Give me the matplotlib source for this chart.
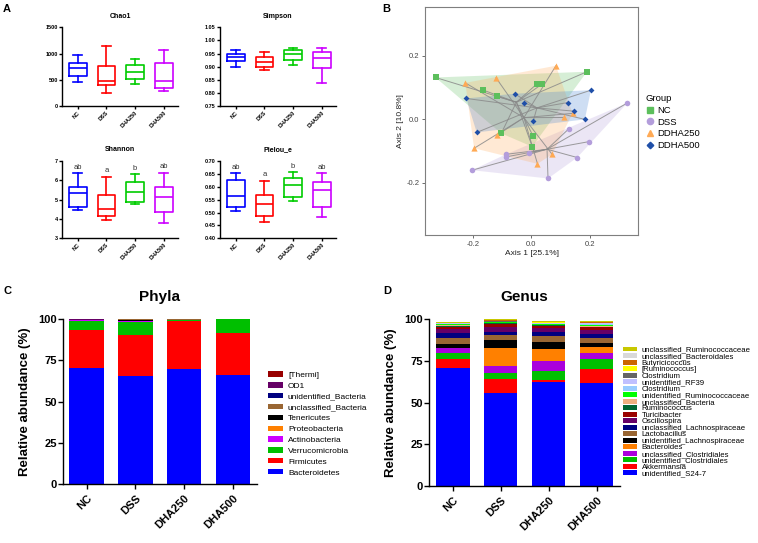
import matplotlib
matplotlib.use("Agg")
import matplotlib.pyplot as plt
import numpy as np
from matplotlib.patches import Patch
from matplotlib.lines import Line2D

plt.rcParams['font.family'] = ['Liberation Sans', 'DejaVu Sans']

groups = ["NC", "DSS", "DHA250", "DHA500"]
box_colors = ["#0000ff", "#ff0000", "#00cc00", "#cc00ff"]

# alpha diversity, per group: whislo, q1, median, q3, whishi
chao1 = [[458, 570, 716, 828, 963],
         [253, 397, 486, 762, 1135],
         [425, 515, 646, 783, 895],
         [294, 352, 483, 822, 1075]]
simpson = [[0.897, 0.922, 0.936, 0.948, 0.965],
           [0.886, 0.897, 0.919, 0.936, 0.957],
           [0.908, 0.925, 0.949, 0.962, 0.970],
           [0.838, 0.895, 0.933, 0.955, 0.971]]
shannon = [[4.47, 4.64, 5.33, 5.67, 6.36],
           [3.95, 4.16, 4.53, 5.22, 6.19],
           [4.76, 4.86, 5.40, 5.93, 6.31],
           [3.81, 4.36, 5.16, 5.64, 6.40]]
pielou = [[0.507, 0.520, 0.563, 0.628, 0.652],
          [0.463, 0.485, 0.533, 0.567, 0.624],
          [0.546, 0.559, 0.606, 0.635, 0.657],
          [0.483, 0.520, 0.588, 0.619, 0.653]]
sig_letters = ["ab", "a", "b", "ab"]

# PCoA coordinates
nc_x = [-0.328, -0.164, -0.119, 0.018, 0.036, 0.190, -0.103, 0.006, 0.003]
nc_y = [0.131, 0.091, 0.072, 0.110, 0.110, 0.149, -0.045, -0.054, -0.087]
dss_x = [0.329, 0.129, 0.197, 0.157, 0.057, -0.009, -0.087, -0.087, -0.203]
dss_y = [0.051, -0.030, -0.071, -0.121, -0.187, -0.106, -0.111, -0.119, -0.161]
d250_x = [0.084, -0.121, -0.226, -0.196, -0.116, 0.021, 0.071, 0.113, 0.141]
d250_y = [0.168, 0.130, 0.114, -0.092, -0.050, -0.141, -0.111, 0.005, 0.018]
d500_x = [-0.223, -0.187, -0.057, -0.026, 0.007, 0.124, 0.145, 0.183, 0.204]
d500_y = [0.065, -0.042, 0.080, 0.052, -0.005, 0.052, 0.025, -0.001, 0.091]
pcoa_names = ["NC", "DSS", "DDHA250", "DDHA500"]

# phyla, bottom to top
phyla = ["Bacteroidetes", "Firmicutes", "Verrucomicrobia", "Actinobacteria",
         "Proteobacteria", "Tenericutes", "unclassified_Bacteria",
         "unidentified_Bacteria", "OD1", "[Thermi]"]
phyla_colors = ["#0000ff", "#ff0000", "#00bf00", "#cc00ff", "#ff8000",
                "#000000", "#996633", "#000080", "#660066", "#990000"]
phyla_vals = np.array([
    [70.6, 65.5, 69.6, 66.1],
    [22.9, 24.9, 29.4, 25.4],
    [5.5, 8.2, 0.6, 8.4],
    [0.5, 0.2, 0.1, 0.05],
    [0.1, 0.2, 0.1, 0.05],
    [0.1, 0.4, 0.05, 0.02],
    [0.1, 0.5, 0.05, 0.02],
    [0.05, 0.05, 0.02, 0.02],
    [0.05, 0.05, 0.02, 0.02],
    [0.05, 0.2, 0.02, 0.02],
])

# genus, bottom to top
genera = ["unidentified_S24-7", "Akkermansia", "unidentified_Clostridiales",
          "unclassified_Clostridiales", "Bacteroides",
          "unidentified_Lachnospiraceae", "Lactobacillus",
          "unclassified_Lachnospiraceae", "Oscillospira", "Turicibacter",
          "Ruminococcus", "unclassified_Bacteria",
          "unidentified_Ruminococcaceae", "Clostridium", "unidentified_RF39",
          "Clostridium", "[Ruminococcus]", "Butyricicoccus",
          "unclassified_Bacteroidales", "unclassified_Ruminococcaceae"]
genus_colors = ["#0000ff", "#ff0000", "#00bf00", "#aa00dd", "#ff8000",
                "#000000", "#996633", "#000080", "#660066", "#990000",
                "#006633", "#f0b080", "#00ff00", "#99ccff", "#c0c0ff",
                "#666666", "#ffff00", "#cc6600", "#d9d9d9", "#c8c800"]
genus_vals = np.array([
    [70.6, 55.6, 62.6, 61.6],
    [5.4, 8.6, 0.9, 8.4],
    [3.6, 3.8, 5.5, 6.0],
    [3.0, 4.2, 6.2, 4.0],
    [0.3, 10.8, 6.8, 3.2],
    [2.1, 4.4, 4.6, 2.8],
    [4.0, 3.2, 3.4, 2.6],
    [3.0, 2.0, 2.4, 2.6],
    [2.0, 3.0, 2.2, 2.4],
    [1.6, 1.6, 1.4, 1.6],
    [0.4, 0.5, 0.4, 0.4],
    [0.3, 0.2, 0.2, 0.3],
    [0.6, 0.3, 0.5, 0.7],
    [0.4, 0.2, 0.3, 0.5],
    [0.3, 0.2, 0.2, 0.4],
    [0.1, 0.2, 0.1, 0.2],
    [0.1, 0.3, 0.6, 0.2],
    [0.1, 0.4, 0.2, 0.3],
    [0.1, 0.2, 0.1, 0.3],
    [0.1, 0.3, 0.3, 0.4],
])

fig = plt.figure(figsize=(7.58, 5.43), dpi=100)
W, H = 758.0, 543.0


def px_axes(left, top, right, bottom):
    return fig.add_axes([left / W, 1 - bottom / H, (right - left) / W, (bottom - top) / H])


def prism_style(ax, size, tick_len):
    ax.spines['top'].set_visible(False)
    ax.spines['right'].set_visible(False)
    ax.spines['left'].set_linewidth(1.0)
    ax.spines['bottom'].set_linewidth(1.0)
    ax.tick_params(direction='out', length=tick_len, width=1.0, labelsize=size, pad=1)
    for lab in ax.get_yticklabels():
        lab.set_fontweight('bold')


# ---- panel A
def alpha_box(ax, data, title, ylim, yticks, fmt, letters=None):
    for i, (s, c) in enumerate(zip(data, box_colors)):
        st = dict(whislo=s[0], q1=s[1], med=s[2], q3=s[3], whishi=s[4], fliers=[])
        lp = dict(color=c, linewidth=1.2)
        ax.bxp([st], positions=[i], widths=0.62, capwidths=0.3, showfliers=False,
               boxprops=lp, whiskerprops=lp, capprops=lp, medianprops=lp,
               manage_ticks=False)
        if letters:
            ax.text(i, s[4] + (ylim[1] - ylim[0]) * 0.03, letters[i], ha='center',
                    va='bottom', fontsize=5.5, color='#333333')
    ax.set_xlim(-0.55, 3.5)
    ax.set_ylim(*ylim)
    ax.set_yticks(yticks)
    ax.set_yticklabels([fmt % v for v in yticks])
    ax.set_xticks(range(4))
    ax.set_xticklabels(groups, rotation=45, ha='right', rotation_mode='anchor',
                       fontsize=4, fontweight='bold')
    ax.spines['left'].set_bounds(ylim[0], ylim[1])
    prism_style(ax, 4, 2)
    ax.set_title(title, fontsize=5, fontweight='bold', pad=7)


a1 = px_axes(62, 27.3, 178, 106)
alpha_box(a1, chao1, "Chao1", (0, 1500), [0, 500, 1000, 1500], "%d")
a2 = px_axes(220, 27.3, 336, 106)
alpha_box(a2, simpson, "Simpson", (0.75, 1.05), np.arange(0.75, 1.051, 0.05), "%.2f")
a3 = px_axes(62, 161, 178, 238.3)
alpha_box(a3, shannon, "Shannon", (3, 7), [3, 4, 5, 6, 7], "%d", sig_letters)
a4 = px_axes(220, 161, 336, 238.3)
alpha_box(a4, pielou, "Pielou_e", (0.40, 0.70), np.arange(0.40, 0.701, 0.05), "%.2f", sig_letters)


# ---- panel B
def convex_hull(xs, ys):
    pts = sorted(zip(xs, ys))

    def cross(o, a, b):
        return (a[0] - o[0]) * (b[1] - o[1]) - (a[1] - o[1]) * (b[0] - o[0])
    lower, upper = [], []
    for p in pts:
        while len(lower) >= 2 and cross(lower[-2], lower[-1], p) <= 0:
            lower.pop()
        lower.append(p)
    for p in reversed(pts):
        while len(upper) >= 2 and cross(upper[-2], upper[-1], p) <= 0:
            upper.pop()
        upper.append(p)
    return np.array(lower[:-1] + upper[:-1])


pb = px_axes(425, 7.3, 638.3, 235)
pcoa = [(nc_x, nc_y, "#5cbf5c", "s", 14),
        (dss_x, dss_y, "#b39ddb", "o", 16),
        (d250_x, d250_y, "#ffaa55", "^", 20),
        (d500_x, d500_y, "#1f4fa8", "D", 9)]
fills = ["#5cbf5c", "#b39ddb", "#ffaa55", "#3d7fd1"]
for (xs, ys, c, m, s), fc in zip(pcoa, fills):
    h = convex_hull(xs, ys)
    pb.fill(h[:, 0], h[:, 1], color=fc, alpha=0.25, lw=0)
for xs, ys, c, m, s in pcoa:
    cx, cy = np.mean(xs), np.mean(ys)
    for x, y in zip(xs, ys):
        pb.plot([cx, x], [cy, y], color='#8a8a8a', lw=0.7, alpha=0.85, zorder=2)
for xs, ys, c, m, s in pcoa:
    pb.scatter(xs, ys, c=c, marker=m, s=s, zorder=3, linewidths=0)
pb.set_xlim(-0.364, 0.366)
pb.set_ylim(-0.365, 0.352)
pb.set_xticks([-0.2, 0.0, 0.2])
pb.set_yticks([-0.2, 0.0, 0.2])
pb.set_xticklabels(["-0.2", "0.0", "0.2"])
pb.set_yticklabels(["-0.2", "0.0", "0.2"])
for sp in pb.spines.values():
    sp.set_color('#7f7f7f')
    sp.set_linewidth(0.8)
pb.tick_params(length=2.5, width=0.6, color='#555555', labelsize=5.5, labelcolor='#444444', pad=1.5)
pb.set_xlabel("Axis 1 [25.1%]", fontsize=6, labelpad=2, color='#222222')
pb.set_ylabel("Axis 2 [10.8%]", fontsize=6, labelpad=2, color='#222222')
hb = [Line2D([], [], ls='', marker=m, color=c, markersize=4.5 if m != 'D' else 3.3)
      for (xs, ys, c, m, s) in pcoa]
leg = pb.legend(hb, pcoa_names, title="Group", loc='upper left', frameon=False,
                bbox_to_anchor=(645 / W, 1 - 94 / H), bbox_transform=fig.transFigure,
                fontsize=6.8, title_fontsize=6.8, handlelength=1.0, handletextpad=0.3,
                labelspacing=0.3, borderpad=0, borderaxespad=0)
leg._legend_box.align = "left"


# ---- panels C and D
def stacked(ax, vals, colors, names, title, xlim, width, leg_x, leg_y, spacing, lsize):
    x = np.arange(len(groups))
    bottom = np.zeros(len(groups))
    for v, c in zip(vals, colors):
        ax.bar(x, v, width, bottom=bottom, color=c, edgecolor='none')
        bottom += v
    ax.set_xlim(*xlim)
    ax.set_ylim(0, 100)
    ax.set_yticks([0, 25, 50, 75, 100])
    ax.set_xticks(x)
    ax.set_xticklabels(groups, rotation=45, ha='right', rotation_mode='anchor',
                       fontsize=8, fontweight='bold')
    prism_style(ax, 8, 3.5)
    ax.tick_params(axis='x', pad=3)
    ax.set_ylabel("Relative abundance (%)", fontsize=9.5, fontweight='bold', labelpad=5)
    ax.set_title(title, fontsize=11, fontweight='bold', pad=13)
    handles = [Patch(facecolor=c, edgecolor='none') for c in colors][::-1]
    ax.legend(handles, names[::-1], loc='center left', frameon=False,
              bbox_to_anchor=(leg_x / W, 1 - leg_y / H), bbox_transform=fig.transFigure,
              fontsize=lsize, handlelength=1.8, handleheight=0.6,
              handletextpad=0.6, labelspacing=spacing, borderpad=0, borderaxespad=0)


pc = px_axes(63.3, 319.3, 256.7, 483.7)
stacked(pc, phyla_vals, phyla_colors, phyla, "Phyla", (-0.48, 3.49), 0.71, 268, 424, 0.39, 6)
pd_ = px_axes(429.3, 319.3, 620, 486)
stacked(pd_, genus_vals, genus_colors, genera, "Genus", (-0.49, 3.49), 0.70, 623, 412, -0.09, 5.6)

for lab, (x, y) in zip("ABCD", [(3, 4), (382, 4), (3, 286), (383, 286)]):
    fig.text(x / W, 1 - y / H, lab, fontsize=8, fontweight='bold', va='top', ha='left')

fig.savefig("out.png", dpi=100)
